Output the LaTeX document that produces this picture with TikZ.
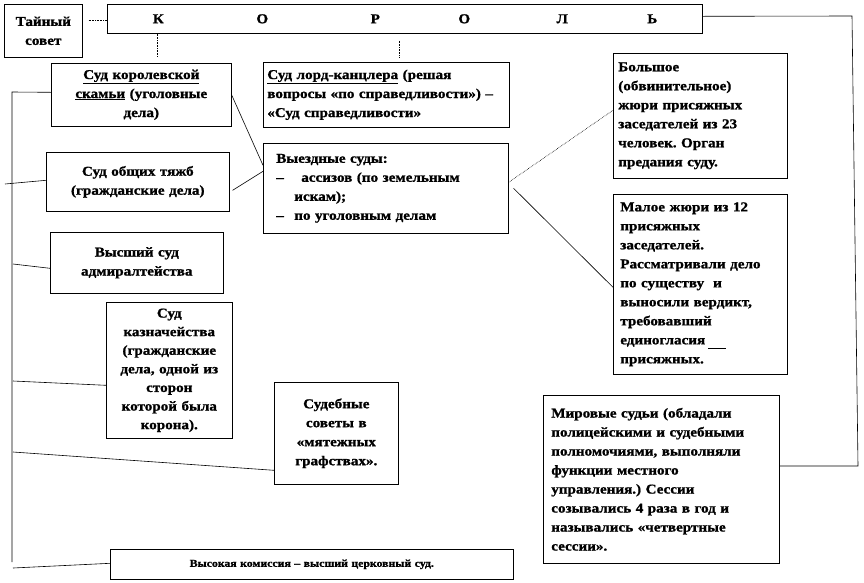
\documentclass[tikz,border=0pt]{standalone}
\usepackage{fontspec}
\setmainfont{Liberation Serif}[FakeStretch=1.12, BoldFeatures={FakeBold=1.2}]
\usetikzlibrary{calc}
\frenchspacing
\begin{document}
\begin{tikzpicture}[x=1pt,y=-1pt,
  box/.style={draw, line width=0.6pt, inner xsep=4pt, inner ysep=2pt, anchor=north west,
    font=\bfseries\fontsize{13.5}{19}\selectfont},
  conn/.style={line width=0.6pt},
  dconn/.style={line width=0.6pt, densely dotted}]
\useasboundingbox (0,0) rectangle (864,582);

\node[box, minimum width=78pt, minimum height=53pt, text width=70pt, align=center] (ts) at (4,4) {Тайный\\совет};
\node[box, minimum width=595pt, minimum height=29pt, text width=587pt, align=left] (kr) at (107,4)
  {\hspace*{47pt}\makebox[0pt]{К}\hspace{104pt}\makebox[0pt]{О}\hspace{113pt}\makebox[0pt]{Р}\hspace{89pt}\makebox[0pt]{О}\hspace{98pt}\makebox[0pt]{Л}\hspace{90pt}\makebox[0pt]{Ь}\hfill};
\node[box, minimum width=180pt, minimum height=63pt, text width=172pt, align=center] (kb) at (51,63)
  {\underline{Суд королевской}\\\underline{скамьи} (уголовные\\дела)};
\node[box, minimum width=246pt, minimum height=65pt, text width=238pt, align=left] (lk) at (263,62)
  {\underline{Суд лорд-канцлера} (решая\\вопросы «по справедливости») –\\«Суд справедливости»};
\node[box, minimum width=183pt, minimum height=59pt, text width=175pt, align=center] (ot) at (46,152)
  {Суд общих тяжб\\(гражданские дела)};
\node[box, inner xsep=13pt, minimum width=245pt, minimum height=90pt, text width=219pt, align=left] (vs) at (263,143)
  {Выездные суды:\\\makebox[25pt][l]{–}ассизов (по земельным\\\hspace*{18pt}искам);\\\makebox[18pt][l]{–}по уголовным делам};
\node[box, inner xsep=5pt, minimum width=174pt, minimum height=125pt, text width=164pt, align=left] (bj) at (613,53)
  {Большое\\(обвинительное)\\жюри присяжных\\заседателей из 23\\человек. Орган\\предания суду.};
\node[box, inner xsep=7pt, minimum width=174pt, minimum height=180pt, text width=160pt, align=left] (mj) at (613,194)
  {Малое жюри из 12\\присяжных\\заседателей.\\Рассматривали дело\\по существу~ и\\выносили вердикт,\\требовавший\\единогласия\rlap{\hspace{3pt}\raisebox{-4pt}{\rule{18pt}{0.6pt}}}\\присяжных.};
\node[box, minimum width=173pt, minimum height=61pt, text width=165pt, align=center] (ad) at (50,232)
  {Высший суд\\адмиралтейства};
\node[box, font=\bfseries\fontsize{13.5}{18.6}\selectfont, minimum width=126pt, minimum height=136pt, text width=118pt, align=center] (kz) at (106,302)
  {Суд\\казначейства\\(гражданские\\дела, одной из\\сторон\\которой была\\корона).};
\node[box, minimum width=124pt, minimum height=102pt, text width=116pt, align=center] (ss) at (274,382)
  {Судебные\\советы в\\«мятежных\\графствах».\par\vspace*{16pt}};
\node[box, inner xsep=8pt, minimum width=236pt, minimum height=168pt, text width=220pt, align=left] (mr) at (543,395)
  {Мировые судьи (обладали\\полицейскими и судебными\\полномочиями, выполняли\\функции местного\\управления.) Сессии\\созывались 4 раза в год и\\назывались «четвертные\\сессии».};
\node[box, font=\bfseries\fontsize{10.5}{13}\selectfont, minimum width=403pt, minimum height=30pt, text width=395pt, align=center] (vk) at (110,549)
  {Высокая комиссия – высший церковный суд.};

% helper coordinates
\coordinate (lt) at (12,92);
\coordinate (lb) at (12,562);
\coordinate (t1) at (5,184);
\coordinate (t2) at (13,264);
\coordinate (t3) at (13,381);
\coordinate (t4) at (13,452);
\coordinate (t5) at (13,568);
\coordinate (rt) at (852,16);
\coordinate (rb) at (858,466);
\coordinate (v1) at ($(kb.north)+(16,-6)$);
\coordinate (v2) at ($(lk.north)+(13,-4)$);

% top connectors
\draw[dconn] ([xshift=6pt,yshift=10.5pt]ts.east) -- ([yshift=-1.5pt]kr.west);
\draw[dconn] (v1 |- kr.south) -- (v1);
\draw[dconn] ([yshift=-7pt]v2 |- kr.south) -- (v2);
\draw[conn] ([yshift=2.5pt]kr.east) -- (rt) -- (rb) -- (mr.east |- rb);

% left trunk
\draw[conn] ([yshift=2.5pt]kb.west) -- (lt) -- (lb);
\draw[conn] (t1) -- ([yshift=1.5pt]ot.west);
\draw[conn] (t2) -- ([yshift=-5.5pt]ad.west);
\draw[conn] (t3) -- ([yshift=-15pt]kz.west);
\draw[conn] (t4) -- ([yshift=-37pt]ss.west);
\draw[conn] (t5) -- ([yshift=1pt]vk.west);

% middle connectors
\draw[conn] (kb.east) -- ([yshift=23pt]vs.west);
\draw[conn] ([xshift=3pt,yshift=-8.5pt]ot.east) -- ([yshift=17pt]vs.west);
\draw[dconn] ([yshift=6pt]vs.east) -- ([yshift=5.5pt]bj.west);
\draw[conn] ([xshift=5pt]vs.east) -- ([yshift=-3pt]mj.west);
\end{tikzpicture}
\end{document}
